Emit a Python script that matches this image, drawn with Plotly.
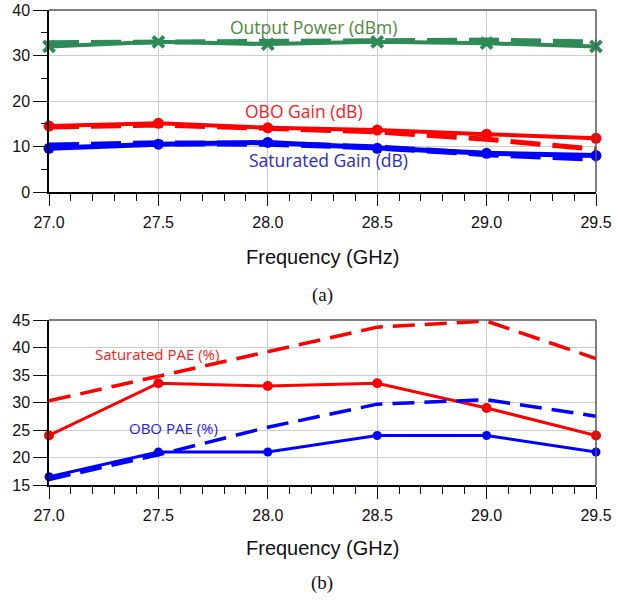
import plotly.graph_objects as go

freq = [27.0, 27.5, 28.0, 28.5, 29.0, 29.5]

# Top chart (a)
pout_solid = [32.0, 33.0, 32.5, 33.0, 32.7, 32.0]
pout_dash = [32.8, 33.0, 33.2, 33.4, 33.4, 33.0]
obo_gain_solid = [14.5, 15.1, 14.1, 13.6, 12.7, 11.8]
obo_gain_dash = [14.3, 14.7, 14.0, 13.2, 11.6, 9.4]
sat_gain_solid = [9.6, 10.5, 10.9, 9.6, 8.5, 8.0]
sat_gain_dash = [10.2, 10.7, 10.6, 9.8, 8.3, 7.3]

# Bottom chart (b)
sat_pae_solid = [24.0, 33.5, 33.0, 33.5, 29.0, 24.0]
sat_pae_dash = [30.3, 34.8, 39.2, 43.7, 44.8, 38.0]
obo_pae_solid = [16.5, 21.0, 21.0, 24.0, 24.0, 21.0]
obo_pae_dash = [16.0, 20.5, 25.5, 29.7, 30.5, 27.5]

xticks = [27.0, 27.5, 28.0, 28.5, 29.0, 29.5]
xticklabels = ["27.0", "27.5", "28.0", "28.5", "29.0", "29.5"]

GREEN = "#2e8b57"
RED = "#ff0000"
BLUE = "#0000ff"

fig = go.Figure()

def add(x, y, color, dash, width, xa, ya, marker=None):
    kw = dict(x=x, y=y, xaxis=xa, yaxis=ya, showlegend=False, cliponaxis=False,
              line=dict(color=color, width=width, dash=dash))
    if marker:
        kw["mode"] = "lines+markers"
        kw["marker"] = marker
    else:
        kw["mode"] = "lines"
    fig.add_trace(go.Scatter(**kw))

LD = "30px,12px"
add(freq, pout_dash, GREEN, LD, 5, "x", "y")
add(freq, pout_solid, GREEN, "solid", 4, "x", "y",
    dict(symbol="x-thin", size=11, line=dict(color=GREEN, width=4), color=GREEN))
add(freq, obo_gain_dash, RED, LD, 5, "x", "y")
add(freq, obo_gain_solid, RED, "solid", 4, "x", "y", dict(symbol="circle", size=11, color=RED))
add(freq, sat_gain_dash, BLUE, LD, 6, "x", "y")
add(freq, sat_gain_solid, BLUE, "solid", 5, "x", "y", dict(symbol="circle", size=11, color=BLUE))

LD2 = "22px,10px"
add(freq, sat_pae_dash, RED, LD2, 3.5, "x2", "y2")
add(freq, sat_pae_solid, RED, "solid", 3, "x2", "y2", dict(symbol="circle", size=10, color=RED))
add(freq, obo_pae_dash, BLUE, LD2, 3.5, "x2", "y2")
add(freq, obo_pae_solid, BLUE, "solid", 3, "x2", "y2", dict(symbol="circle", size=9, color=BLUE))

W, H = 621, 603
def fx(px):
    return px / W
def fy(py):
    return 1 - py / H

tickfont = dict(family="Liberation Sans, Arial, sans-serif", size=16, color="#111")
xcommon = dict(range=[xticks[0], xticks[-1]], tickmode="array", tickvals=xticks,
               ticktext=xticklabels,
               showgrid=True, gridcolor="#cccccc", gridwidth=1,
               showline=True, linecolor="#000", linewidth=1.5,
               ticks="outside", ticklen=12, tickcolor="#111", tickwidth=1.3,
               minor=dict(tickmode="linear", dtick=0.1, tick0=27.0, ticks="outside", ticklen=7,
                          tickcolor="#111", tickwidth=1.3, showgrid=False),
               tickfont=tickfont, zeroline=False, ticklabelstandoff=3,
               automargin=False)

fig.update_layout(
    width=W, height=H, margin=dict(l=0, r=0, t=0, b=0),
    plot_bgcolor="white", paper_bgcolor="white",
    xaxis=dict(domain=[fx(49), fx(596)], anchor="y", **xcommon),
    yaxis=dict(domain=[fy(192), fy(10)], anchor="x", range=[0, 40],
               tickmode="linear", tick0=0, dtick=10, showgrid=True, gridcolor="#cccccc",
               showline=True, linecolor="#000", linewidth=1.5,
               ticks="outside", ticklen=14, tickcolor="#111", tickwidth=1.3,
               minor=dict(tickmode="linear", tick0=0, dtick=5, ticks="outside", ticklen=6,
                          tickcolor="#111", tickwidth=1.3, showgrid=False),
               tickfont=tickfont, zeroline=False, automargin=False),
    xaxis2=dict(domain=[fx(49), fx(596)], anchor="y2", **xcommon),
    yaxis2=dict(domain=[fy(485), fy(320)], anchor="x2", range=[15, 45],
                tickmode="linear", tick0=15, dtick=5, showgrid=True, gridcolor="#cccccc",
                showline=True, linecolor="#000", linewidth=1.5,
                ticks="outside", ticklen=14, tickcolor="#111", tickwidth=1.3,
                tickfont=tickfont, zeroline=False, automargin=False),
)

# top/right frame lines
for y0, y1 in [(10, 192), (320, 485)]:
    fig.add_shape(type="line", xref="paper", yref="paper", x0=fx(49), x1=fx(596),
                  y0=fy(y0), y1=fy(y0), line=dict(color="#555", width=1.5))
    fig.add_shape(type="line", xref="paper", yref="paper", x0=fx(596), x1=fx(596),
                  y0=fy(y0), y1=fy(y1), line=dict(color="#555", width=1.5))

labfont = "Open Sans, Noto Sans, sans-serif"
def note(text, x, y, color, size, family=labfont):
    fig.add_annotation(text=text, x=fx(x), y=fy(y), xref="paper", yref="paper",
                       showarrow=False, font=dict(family=family, size=size, color=color),
                       xanchor="center", yanchor="middle")

note("Output Power (dBm)", 313, 27, "#4f8a3c", 17.5)
note("OBO Gain (dB)", 304, 111, "#ff1a1a", 17.5)
note("Saturated Gain (dB)", 328, 160, "#2a2ad0", 17.5)
note("Saturated PAE (%)", 157, 354, "#ff1a1a", 15)
note("OBO PAE (%)", 173, 428, "#1a1aff", 15)

note("Frequency (GHz)", 322, 257, "#111", 20, "Liberation Sans, Arial, sans-serif")
note("Frequency (GHz)", 322, 548, "#111", 20, "Liberation Sans, Arial, sans-serif")
note("(a)", 322, 295, "#111", 19, "Liberation Serif, Times New Roman, serif")
note("(b)", 322, 583, "#111", 19, "Liberation Serif, Times New Roman, serif")

fig.write_html("out.html")
